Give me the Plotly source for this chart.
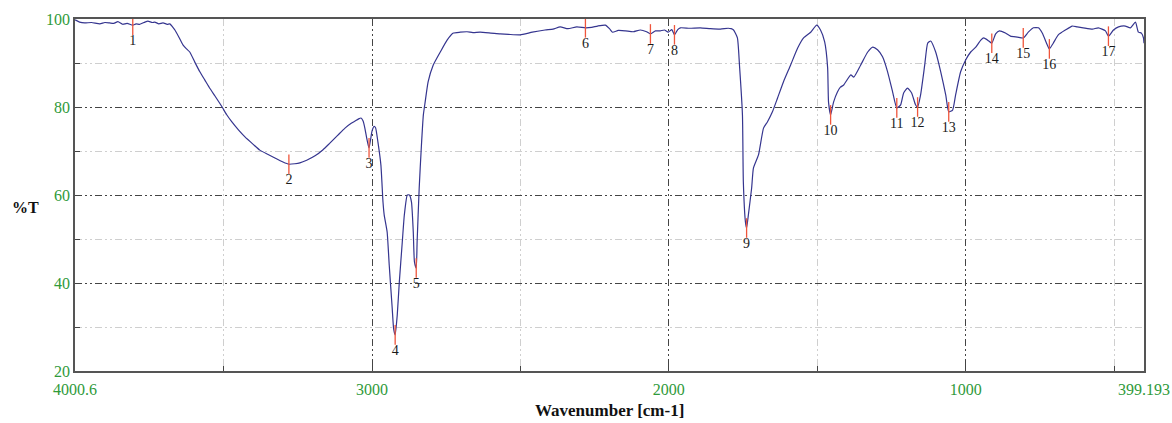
import plotly.graph_objects as go

# Spectrum (wavenumber cm-1, %T)
wavenumber = [4000.6, 3985, 3968, 3945, 3917, 3900, 3884, 3870, 3856, 3840, 3825, 3806, 3795, 3782,
              3765, 3755, 3740, 3732, 3718, 3704, 3690, 3681, 3672, 3664, 3650, 3637, 3625, 3614,
              3597, 3580, 3563, 3546, 3529, 3505, 3490, 3472, 3450, 3428, 3400, 3378, 3350, 3327,
              3300, 3280, 3260, 3243, 3220, 3192, 3165, 3142, 3115, 3091, 3070, 3057, 3045, 3037,
              3030, 3025, 3018, 3013, 3010, 3005, 3000, 2993, 2988, 2980, 2970, 2963, 2959, 2949,
              2942, 2932, 2927, 2922, 2915, 2908, 2898, 2891, 2881, 2874, 2867, 2861, 2857, 2851,
              2848, 2841, 2834, 2827, 2821, 2811, 2794, 2770, 2747, 2726, 2703, 2680, 2660, 2636,
              2600, 2568, 2540, 2501, 2460, 2417, 2390, 2366, 2340, 2310, 2281, 2260, 2240, 2214,
              2200, 2190, 2170, 2146, 2120, 2096, 2075, 2062, 2045, 2029, 2015, 2002, 1990, 1981,
              1970, 1961, 1930, 1894, 1860, 1826, 1800, 1790, 1782, 1769, 1762, 1752, 1749, 1742,
              1738, 1732, 1721, 1715, 1698, 1681, 1668, 1651, 1634, 1614, 1590, 1566, 1546, 1522,
              1502, 1489, 1475, 1465, 1462, 1455, 1445, 1432, 1422, 1411, 1387, 1377, 1354, 1330,
              1313, 1297, 1280, 1263, 1246, 1232, 1219, 1209, 1196, 1182, 1169, 1162, 1152, 1138,
              1128, 1118, 1101, 1084, 1067, 1057, 1044, 1034, 1017, 1000, 983, 966, 949, 939,
              922, 912, 899, 886, 866, 849, 826, 806, 789, 772, 755, 742, 725, 718,
              705, 688, 664, 641, 624, 604, 573, 553, 529, 519, 502, 485, 462, 445,
              428, 418, 408, 401, 399.193]
transmittance = [99.8, 99.3, 99.1, 99.2, 98.9, 99.2, 99.1, 99.0, 99.4, 98.8, 99.0, 98.6, 98.9, 98.8,
                 99.3, 99.5, 99.2, 99.3, 98.9, 99.1, 98.8, 98.9, 98.2, 97.5, 95.8, 94.1, 93.2, 92.5,
                 90.2, 88.0, 86.1, 84.2, 82.5, 80.0, 78.3, 76.6, 74.8, 73.2, 71.5, 70.2, 69.2, 68.4,
                 67.5, 67.0, 67.1, 67.3, 67.9, 68.9, 70.3, 71.8, 73.6, 75.2, 76.3, 76.8, 77.3, 77.5,
                 76.8, 75.5, 73.0, 71.4, 70.7, 72.5, 74.5, 75.6, 75.3, 72.0, 66.8, 58.4, 55.5, 51.6,
                 44.1, 34.3, 29.5, 28.2, 32.7, 40.2, 49.3, 55.5, 60.0, 60.0, 58.4, 51.6, 44.8, 43.4,
                 49.3, 61.6, 70.7, 78.2, 81.1, 85.7, 89.5, 92.5, 95.2, 96.8, 97.0, 97.1, 96.9, 97.0,
                 96.8, 96.6, 96.5, 96.4, 97.0, 97.5, 97.7, 98.2, 97.8, 98.2, 98.0, 98.1, 98.4, 98.6,
                 97.8, 97.0, 97.4, 97.3, 97.1, 97.5, 97.1, 96.6, 97.3, 97.3, 97.5, 97.0, 97.6, 96.4,
                 97.6, 98.0, 97.9, 98.0, 97.8, 97.7, 97.9, 97.8, 97.5, 95.7, 89.5, 78.2, 63.0, 53.9,
                 52.5, 55.5, 61.6, 66.1, 69.1, 75.2, 76.6, 78.9, 82.0, 85.7, 89.5, 93.4, 95.7, 97.0,
                 98.6, 97.5, 94.8, 88.9, 81.1, 78.2, 81.1, 83.4, 84.5, 85.0, 87.3, 86.8, 89.5, 92.5,
                 93.6, 93.0, 91.4, 88.0, 83.4, 79.8, 80.5, 83.2, 84.3, 83.2, 80.5, 80.0, 82.7, 89.5,
                 94.5, 95.0, 92.5, 88.0, 82.7, 78.9, 79.3, 82.7, 88.0, 90.7, 92.5, 93.6, 95.2, 95.7,
                 95.0, 94.5, 96.6, 97.3, 96.8, 96.1, 95.9, 95.7, 97.0, 98.0, 98.0, 96.8, 94.1, 93.2,
                 94.5, 96.4, 97.5, 98.4, 98.2, 98.0, 97.7, 98.0, 97.3, 96.1, 97.5, 98.2, 98.4, 98.0,
                 99.3, 97.0, 96.8, 95.7, 94.5]

# Picked peaks
peak_labels = [str(i) for i in range(1, 18)]
peak_wn = [3806, 3280, 3010, 2922, 2851, 2281, 2062, 1981, 1738, 1455, 1232, 1162, 1057, 912, 806, 718, 519]
peak_t = [98.6, 67.0, 70.7, 28.2, 43.4, 98.0, 96.6, 96.4, 52.5, 78.2, 79.8, 80.0, 78.9, 94.5, 95.7, 93.2, 96.1]

x_tickvals = [4000.6, 3000, 2000, 1000, 399.193]
x_ticktext = ["4000.6", "3000", "2000", "1000", "399.193"]
x_minor = [3500, 2500, 1500, 500]
y_tickvals = [20, 40, 60, 80, 100]
y_minor = [30, 50, 70, 90]

FONT = "Liberation Serif"
GREEN = "#2f9a3a"
DASH = "7px,3px,2px,3px,2px,3px"

fig = go.Figure()
fig.add_trace(go.Scatter(
    x=wavenumber, y=transmittance, mode="lines",
    line=dict(color="#35358f", width=1.2, shape="spline", smoothing=0.5),
    hoverinfo="skip", showlegend=False))
fig.add_trace(go.Scatter(
    x=peak_wn, y=peak_t, mode="markers+text", text=peak_labels,
    textposition="bottom center",
    textfont=dict(family=FONT, size=14, color="#1a1a1a"),
    marker=dict(symbol="line-ns-open", size=14, line=dict(color="#ff0000", width=1.3)),
    showlegend=False))

fig.update_layout(
    width=1172, height=423,
    margin=dict(l=75, r=28, t=19, b=52, autoexpand=False),
    paper_bgcolor="white", plot_bgcolor="white",
    font=dict(family=FONT),
    xaxis=dict(
        range=[4000.6, 399.193], tickmode="array", tickvals=x_tickvals, ticktext=x_ticktext,
        showgrid=True, gridcolor="#444444", gridwidth=1, griddash=DASH,
        ticks="inside", ticklen=5, tickcolor="#444444", automargin=False,
        minor=dict(tickmode="array", tickvals=x_minor, showgrid=True, gridcolor="#cfcfcf",
                   griddash=DASH, ticks="inside", ticklen=5, tickcolor="#444444"),
        showline=True, linecolor="#555555", linewidth=1.5, mirror=True, zeroline=False,
        tickfont=dict(family=FONT, size=16, color=GREEN), ticklabelstandoff=3),
    yaxis=dict(
        range=[20, 100], tickmode="array", tickvals=y_tickvals,
        showgrid=True, gridcolor="#444444", gridwidth=1, griddash=DASH,
        ticks="inside", ticklen=5, tickcolor="#444444", automargin=False,
        minor=dict(tickmode="array", tickvals=y_minor, showgrid=True, gridcolor="#cfcfcf",
                   griddash=DASH, ticks="inside", ticklen=5, tickcolor="#444444"),
        showline=True, linecolor="#555555", linewidth=1.5, mirror=True, zeroline=False,
        tickfont=dict(family=FONT, size=16, color=GREEN)),
    annotations=[
        dict(text="<b>Wavenumber [cm-1]</b>", xref="paper", yref="paper", x=0.5, y=0,
             yshift=-39, showarrow=False, xanchor="center", yanchor="middle",
             font=dict(family=FONT, size=17, color="#111111")),
        dict(text="<b>%T</b>", xref="paper", yref="paper", x=0, y=0.465,
             xshift=-50, showarrow=False, xanchor="center", yanchor="middle",
             font=dict(family=FONT, size=16, color="#111111")),
    ],
)

fig.write_html("out.html")
